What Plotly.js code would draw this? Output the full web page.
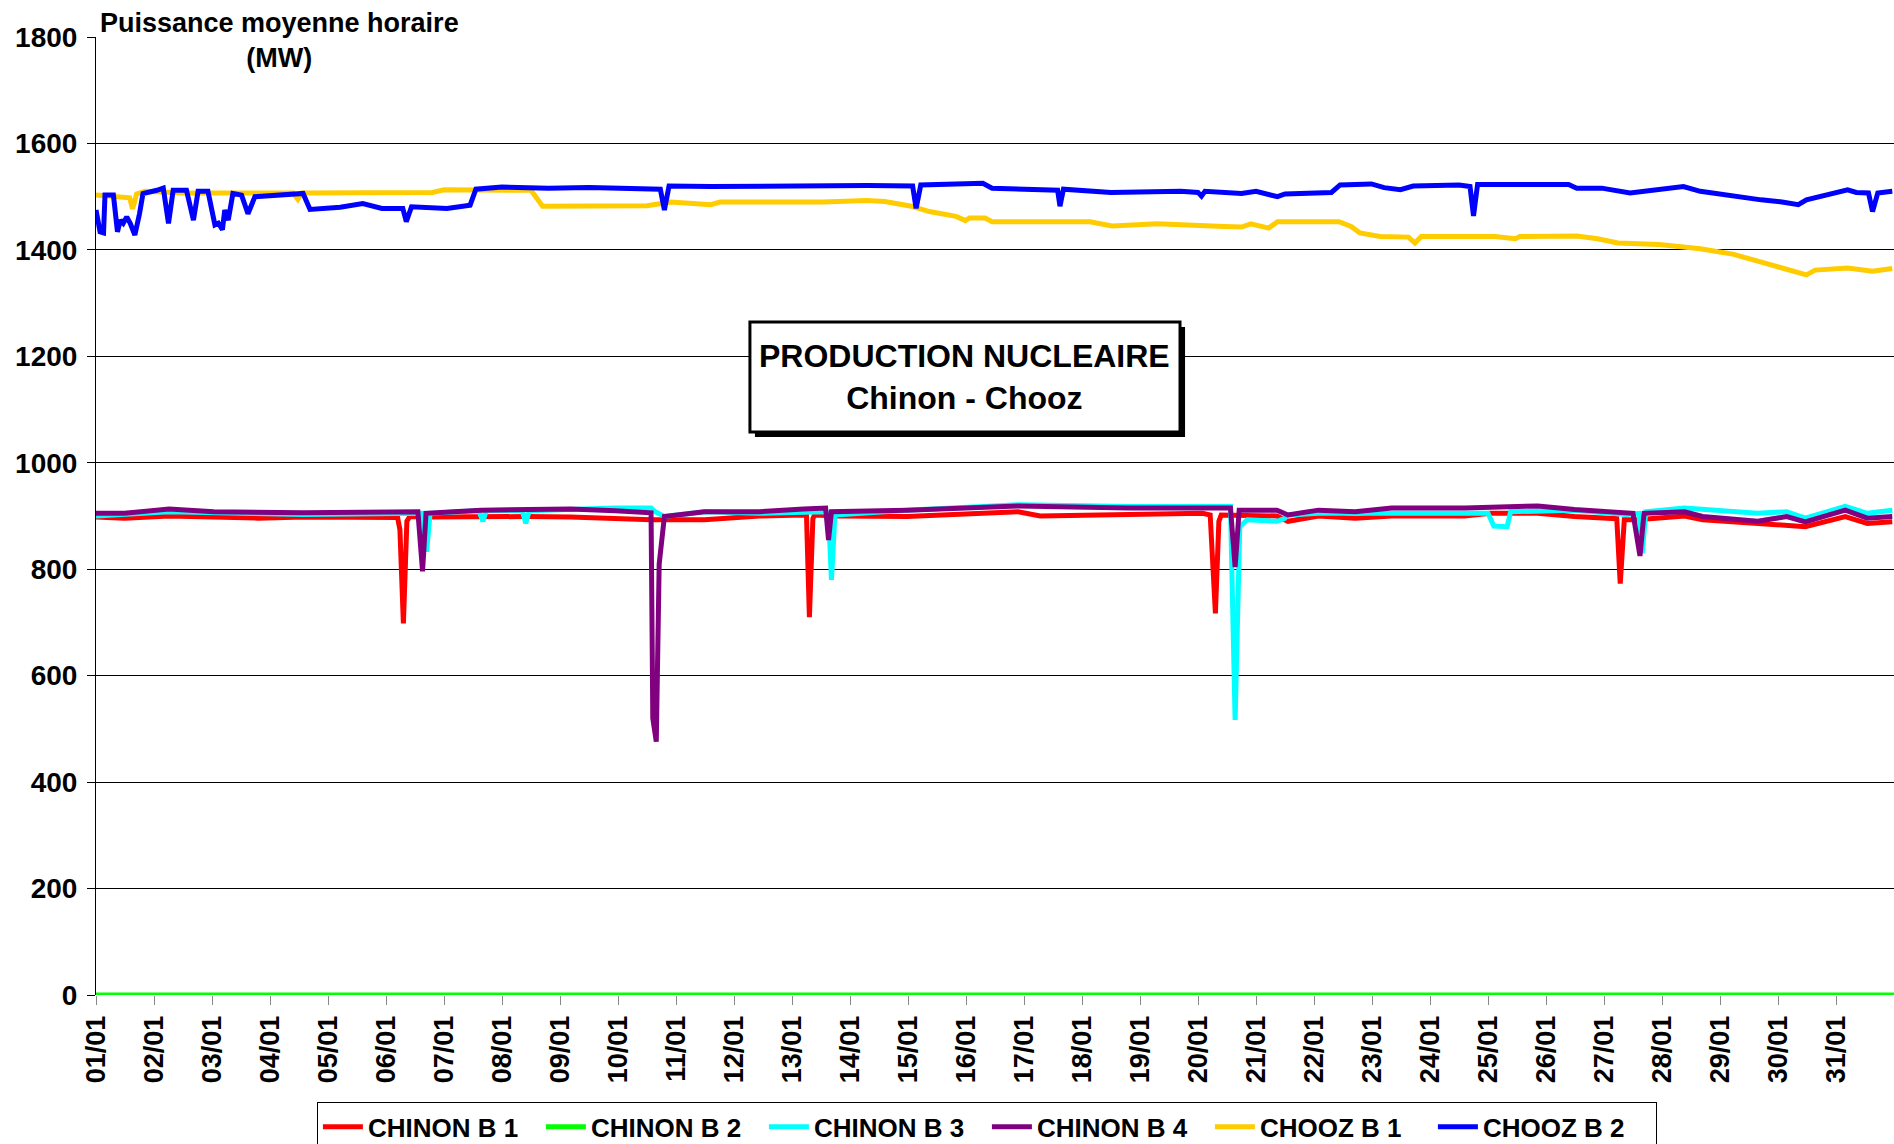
<!DOCTYPE html>
<html>
<head>
<meta charset="utf-8">
<script src="https://cdn.plot.ly/plotly-3.0.1.min.js"></script>
<style>
html,body{margin:0;padding:0;background:#fff;}
#chart{width:1894px;height:1144px;}
</style>
</head>
<body>
<div id="chart"></div>
<script>
// Day labels (x ticks)
const dayTicks = [0,1,2,3,4,5,6,7,8,9,10,11,12,13,14,15,16,17,18,19,20,21,22,23,24,25,26,27,28,29,30];
const dayLabels = ["01/01","02/01","03/01","04/01","05/01","06/01","07/01","08/01","09/01","10/01","11/01","12/01","13/01","14/01","15/01","16/01","17/01","18/01","19/01","20/01","21/01","22/01","23/01","24/01","25/01","26/01","27/01","28/01","29/01","30/01","31/01"];

// Series names
const seriesNames = ["CHINON B 1","CHINON B 2","CHINON B 3","CHINON B 4","CHOOZ B 1","CHOOZ B 2"];

// CHINON B 1 (time in days since 01/01 00:00, MW)
const chinonB1_t = [0,0.49,1.26,2.03,2.8,3.57,4.34,5.11,5.2,5.24,5.3,5.36,5.41,5.8,6.64,7.41,8.18,8.95,9.57,10.49,11.44,12.2,12.25,12.3,12.36,12.39,12.77,13.98,15.9,16.28,17.81,19.08,19.21,19.3,19.36,19.4,20.36,20.55,21.08,21.71,22.34,22.97,23.6,24.04,24.86,25.49,26.12,26.22,26.28,26.35,26.57,27.39,27.7,28.65,29.47,30.16,30.54,30.97];
const chinonB1_v = [898,896,900,898,896,898,898,899,897,874,698,890,899,898,899,899,898,894,893,893,900,902,900,710,895,902,900,899,908,900,902,905,902,717,890,902,900,890,900,896,900,899,900,905,905,899,896,895,773,893,893,900,893,886,880,899,886,889];

// CHINON B 2
const chinonB2_t = [0,1,2,3,4,5,6,7,8,9,10,11,12,13,14,15,16,17,18,19,20,21,22,23,24,25,26,27,28,29,30,31];
const chinonB2_v = [0,0,0,0,0,0,0,0,0,0,0,0,0,0,0,0,0,0,0,0,0,0,0,0,0,0,0,0,0,0,0,0];

// CHINON B 3
const chinonB3_t = [0,1.26,3.57,5.5,5.63,5.7,5.76,6.6,6.67,6.73,7.35,7.41,7.47,8.95,9.57,9.64,9.8,10.49,11.44,12.58,12.63,12.68,12.74,13.98,15.9,17.81,19.56,19.64,19.72,19.85,20.36,20.49,20.55,21.08,21.71,22.34,23.6,24.0,24.1,24.33,24.39,24.86,25.49,26.38,26.6,26.66,26.72,27.39,28.65,29.15,29.47,30.16,30.54,30.97];
const chinonB3_v = [900,908,903,905,905,833,905,910,890,910,910,886,910,915,915,908,899,908,905,908,905,780,902,911,921,918,918,517,880,893,890,895,902,905,906,905,905,905,881,880,908,909,911,903,905,830,908,915,905,908,896,918,905,911];

// CHINON B 4
const chinonB4_t = [0,0.49,1.26,2.03,3.57,5.11,5.55,5.63,5.69,6.64,8.18,8.95,9.57,9.6,9.66,9.71,9.8,10.49,11.44,12.2,12.58,12.63,12.68,13.98,15.9,17.81,19.56,19.64,19.71,20.36,20.55,21.08,21.71,22.34,23.6,24.86,25.49,26.5,26.62,26.69,27.39,27.7,28.65,29.15,29.47,30.16,30.54,30.97];
const chinonB4_v = [905,905,913,908,906,908,908,796,905,911,913,910,906,520,476,810,899,908,908,913,915,855,908,911,919,915,915,804,911,911,902,911,908,915,915,919,912,905,825,905,908,899,890,899,889,911,896,899];

// CHOOZ B 1
const choozB1_t = [0,0.5,0.58,0.63,0.7,0.85,1.5,3.4,3.48,3.55,4.5,5.8,6.0,7.0,7.5,7.7,8.5,9.5,9.91,10.6,10.76,12.53,13.29,13.6,14.06,14.37,14.83,14.99,15.06,15.33,15.45,17.14,17.52,18.29,19.45,19.75,19.91,20.22,20.37,21.43,21.64,21.79,22.14,22.63,22.74,22.85,24.12,24.47,24.55,25.53,25.89,26.24,26.95,27.66,28.22,28.58,29.07,29.49,29.64,30.2,30.63,30.97];
const choozB1_v = [1503,1500,1498,1477,1505,1510,1507,1507,1495,1507,1508,1508,1513,1513,1512,1482,1482,1483,1490,1485,1490,1490,1493,1491,1482,1472,1463,1455,1460,1460,1453,1453,1445,1449,1444,1443,1449,1441,1453,1453,1444,1432,1425,1424,1413,1425,1425,1421,1425,1426,1421,1413,1410,1402,1392,1380,1366,1353,1362,1366,1360,1365];

// CHOOZ B 2
const choozB2_t = [0,0.07,0.13,0.155,0.24,0.3,0.37,0.42,0.47,0.53,0.59,0.67,0.75,0.81,1.05,1.16,1.25,1.33,1.56,1.68,1.76,1.93,2.05,2.11,2.18,2.22,2.28,2.36,2.51,2.62,2.74,3.57,3.69,4.21,4.6,4.93,5.29,5.35,5.44,6.05,6.45,6.55,7.0,7.8,8.5,9.6,9.73,9.8,9.88,10.6,11.5,12.5,13.3,14.08,14.14,14.22,15.29,15.45,16.5,16.58,16.62,16.68,17.5,18.7,19.0,19.06,19.12,19.75,20.0,20.37,20.5,21.0,21.3,21.45,21.99,22.21,22.49,22.71,23.5,23.69,23.75,23.82,25.39,25.53,25.96,26.45,27.0,27.37,27.66,28.22,28.71,29.07,29.35,29.49,30.2,30.35,30.56,30.63,30.72,30.97];
const choozB2_v = [1475,1434,1432,1503,1503,1503,1434,1456,1450,1462,1450,1428,1468,1506,1512,1516,1450,1512,1512,1456,1510,1510,1447,1450,1438,1475,1456,1506,1503,1468,1500,1506,1476,1480,1487,1478,1478,1453,1481,1478,1484,1514,1518,1516,1517,1516,1514,1475,1520,1519,1520,1522,1521,1520,1478,1522,1525,1516,1514,1512,1482,1514,1508,1510,1508,1501,1510,1506,1510,1500,1505,1506,1508,1522,1524,1517,1513,1520,1522,1519,1464,1523,1523,1516,1516,1507,1513,1519,1510,1501,1494,1490,1485,1494,1513,1508,1507,1472,1507,1510];

const colors = ["#FF0000","#00FF00","#00FFFF","#800080","#FFCC00","#0000FF"];
const tList = [chinonB1_t,chinonB2_t,chinonB3_t,chinonB4_t,choozB1_t,choozB2_t];
const vList = [chinonB1_v,chinonB2_v,chinonB3_v,chinonB4_v,choozB1_v,choozB2_v];

const traces = seriesNames.map((name,i)=>({
  type:'scatter', mode:'lines', name:name,
  x:tList[i], y:vList[i],
  line:{color:colors[i], width:5},
  cliponaxis:true
}));

const boldFont = {family:'Liberation Sans, Arial, sans-serif', weight:'bold', color:'#000'};

const layout = {
  width:1894, height:1144,
  margin:{l:96, r:0, t:37, b:149, pad:0, autoexpand:false},
  paper_bgcolor:'#fff', plot_bgcolor:'#fff',
  showlegend:true,
  xaxis:{
    range:[0,31], tickmode:'array', tickvals:dayTicks, ticktext:dayLabels,
    tickangle:-90, ticks:'outside', ticklen:9, tickwidth:1, tickcolor:'#888',
    showgrid:false, zeroline:false, showline:false, automargin:false,
    tickfont:Object.assign({size:27}, boldFont), fixedrange:true
  },
  yaxis:{
    range:[0,1800], dtick:200, tick0:0,
    showgrid:true, gridcolor:'#000', gridwidth:1,
    zeroline:false, showline:true, linecolor:'#000', linewidth:1,
    ticks:'outside', ticklen:8, tickcolor:'#000', ticklabelstandoff:4, automargin:false,
    tickfont:Object.assign({size:28}, boldFont), fixedrange:true
  },
  legend:{
    orientation:'h', x:0.4955, xanchor:'center', y:-0.112, yanchor:'top',
    bgcolor:'#fff', bordercolor:'#000', borderwidth:1,
    font:Object.assign({size:26}, boldFont),
    itemwidth:40, entrywidth:168, traceorder:'normal'
  },
  shapes:[
    {type:'rect', xref:'paper', yref:'paper', x0:0.3665, x1:0.6057, y0:0.5825, y1:0.6973,
     fillcolor:'#000', line:{width:0}, layer:'above'},
    {type:'rect', xref:'paper', yref:'paper', x0:0.3637, x1:0.6029, y0:0.5877, y1:0.7025,
     fillcolor:'#fff', line:{color:'#000', width:3}, layer:'above'}
  ],
  annotations:[
    {xref:'paper', yref:'paper', x:0.4833, y:0.645, xanchor:'center', yanchor:'middle',
     text:'PRODUCTION NUCLEAIRE<br>Chinon - Chooz', showarrow:false,
     font:Object.assign({size:32}, boldFont)},
    {xref:'paper', yref:'paper', x:0.1023, y:0.9965, xanchor:'center', yanchor:'middle',
     text:'Puissance moyenne horaire<br>(MW)', showarrow:false, bgcolor:'#fff', borderpad:2,
     font:Object.assign({size:27}, boldFont)}
  ]
};

Plotly.newPlot('chart', traces, layout, {displayModeBar:false, staticPlot:true});
</script>
</body>
</html>
